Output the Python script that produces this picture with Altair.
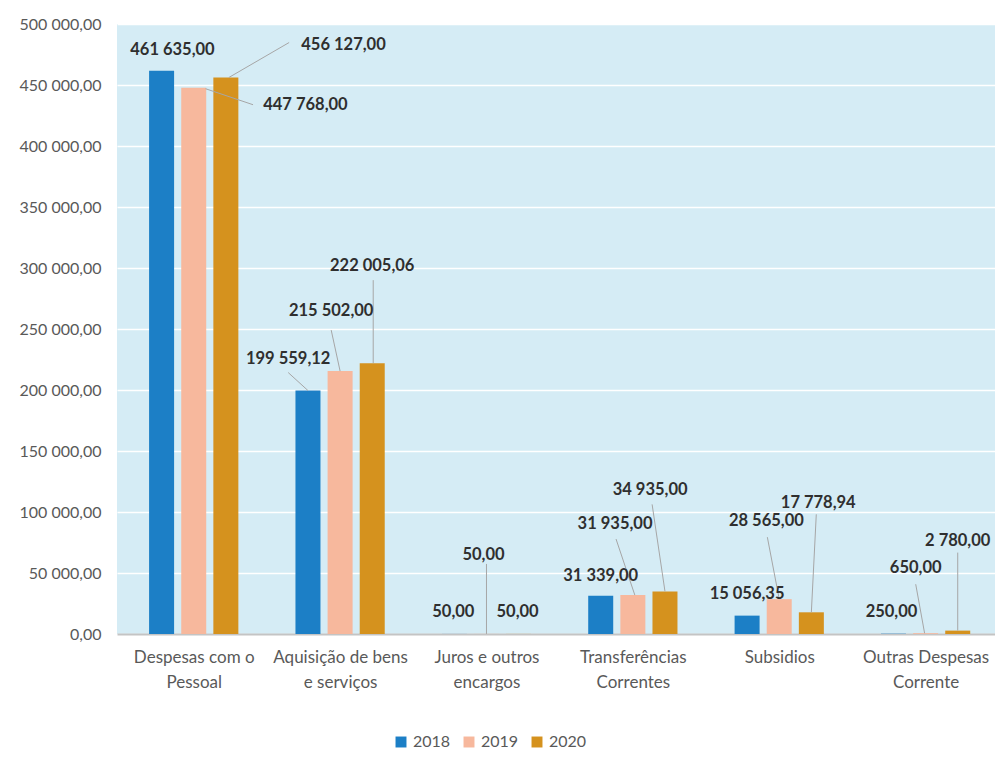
import altair as alt
import pandas as pd

# ---- data ----
categories = [
    "Despesas com o Pessoal",
    "Aquisição de bens e serviços",
    "Juros e outros encargos",
    "Transferências Correntes",
    "Subsidios",
    "Outras Despesas Corrente",
]
category_lines = [
    ["Despesas com o", "Pessoal"],
    ["Aquisição de bens", "e serviços"],
    ["Juros e outros", "encargos"],
    ["Transferências", "Correntes"],
    ["Subsidios"],
    ["Outras Despesas", "Corrente"],
]
years = ["2018", "2019", "2020"]
values_2018 = [461635.00, 199559.12, 50.00, 31339.00, 15056.35, 250.00]
values_2019 = [447768.00, 215502.00, 50.00, 31935.00, 28565.00, 650.00]
values_2020 = [456127.00, 222005.06, 50.00, 34935.00, 17778.94, 2780.00]
y_ticks = list(range(0, 500001, 50000))
colors = ["#1c7fc6", "#f7b89d", "#d5921e"]

# ---- label placement (pixel offsets from each bar's top centre) ----
# (dx, dy, leader line (x1, y1, x2, y2) or None)
label_layout = [
    [(11, -21, None), (113, 17, (12, 1, 60, 17)), (119, -33, (3, 0, 64, -35))],
    [(-20, -32, (0, 0, -20, -18)), (-9, -60, (0, 0, -9, -41)), (0, -97, (1, 0, 1, -83))],
    [(-1, -22, None), (-3, -79, (0, 0, 0, -70)), (-1, -22, None)],
    [(0, -20, None), (-18, -71, (2, 0, -17, -56)), (-15, -101, (0, 0, -13, -87))],
    [(0, -22, None), (-13, -78, (0, 0, -12, -62)), (7, -109, (0, 0, 5, -98))],
    [(-2, -22, None), (-10, -65, (-1, 0, -10, -49)), (0, -90, (0, 0, 0, -78))],
]

W, H = 878, 610
X_DOMAIN = [-0.49, 5.44]
PX_X = W / (X_DOMAIN[1] - X_DOMAIN[0])
V_PER_PX = 500000 / H
BAR_STEP = 32.5 / PX_X

series = [values_2018, values_2019, values_2020]
rows, lines = [], []
for i, cat in enumerate(categories):
    for j, yr in enumerate(years):
        v = series[j][i]
        xc = i + (j - 1) * BAR_STEP
        dx, dy, ln = label_layout[i][j]
        rows.append({
            "cat": cat, "year": yr, "value": v, "xc": xc,
            "lx": xc + dx / PX_X, "ly": v - dy * V_PER_PX,
        })
        if ln:
            x1, y1, x2, y2 = ln
            lines.append({
                "x1": xc + x1 / PX_X, "y1": v - y1 * V_PER_PX,
                "x2": xc + x2 / PX_X, "y2": v - y2 * V_PER_PX,
            })
df = pd.DataFrame(rows)
ldf = pd.DataFrame(lines)

label_expr = "[" + ",".join(
    "[" + ",".join("'" + s + "'" for s in ls) + "]" for ls in category_lines
) + "][datum.value]"

FONT = "Lato"

xscale = alt.Scale(domain=X_DOMAIN, nice=False, zero=False)
yscale = alt.Scale(domain=[0, 500000], nice=False)

bars = alt.Chart(df).mark_bar(size=25).encode(
    x=alt.X("xc:Q", scale=xscale, title=None,
            axis=alt.Axis(values=list(range(len(categories))), labelExpr=label_expr,
                          grid=False, ticks=False, domain=True, domainColor="#c4c4c4",
                          domainWidth=2, labelPadding=15, labelFontSize=17,
                          labelLineHeight=25, labelColor="#595959", labelFont=FONT,
                          labelOverlap=False, labelFlush=False, labelBound=False)),
    y=alt.Y("value:Q", scale=yscale, title=None,
            axis=alt.Axis(values=y_ticks, format=",.2f", grid=True, gridColor="#ffffff",
                          gridWidth=1.6, domain=False, ticks=False, labelPadding=16,
                          labelFontSize=16, labelColor="#595959", labelFont=FONT)),
    color=alt.Color("year:N", scale=alt.Scale(domain=years, range=colors), title=None,
                    legend=alt.Legend(orient="none", legendX=276, legendY=710,
                                      direction="horizontal", symbolType="square",
                                      symbolSize=120, symbolStrokeWidth=0,
                                      labelFontSize=16, labelColor="#595959",
                                      labelFont=FONT, columnPadding=10, labelOffset=4)),
)

leaders = alt.Chart(ldf).mark_rule(color="#a6a6a6", strokeWidth=1).encode(
    x=alt.X("x1:Q", scale=xscale), y=alt.Y("y1:Q", scale=yscale),
    x2="x2:Q", y2="y2:Q",
)

labels = alt.Chart(df).mark_text(
    fontSize=16.5, fontWeight="bold", color="#2f2f2f", font=FONT,
    align="center", baseline="middle",
).encode(
    x=alt.X("lx:Q", scale=xscale), y=alt.Y("ly:Q", scale=yscale),
    text=alt.Text("value:Q", format=",.2f"),
)

chart = alt.layer(bars, leaders, labels).properties(
    width=W, height=H,
    autosize=alt.AutoSizeParams(type="none"),
    padding={"left": 109, "top": 16, "right": 0, "bottom": 125},
    background="#ffffff",
).configure_view(fill="#d5ecf5", strokeWidth=0)

chart.save("out.html", embed_options={
    "renderer": "svg", "actions": False,
    "formatLocale": {"decimal": ",", "thousands": "\u00a0", "grouping": [3],
                     "currency": ["", " €"]},
})
